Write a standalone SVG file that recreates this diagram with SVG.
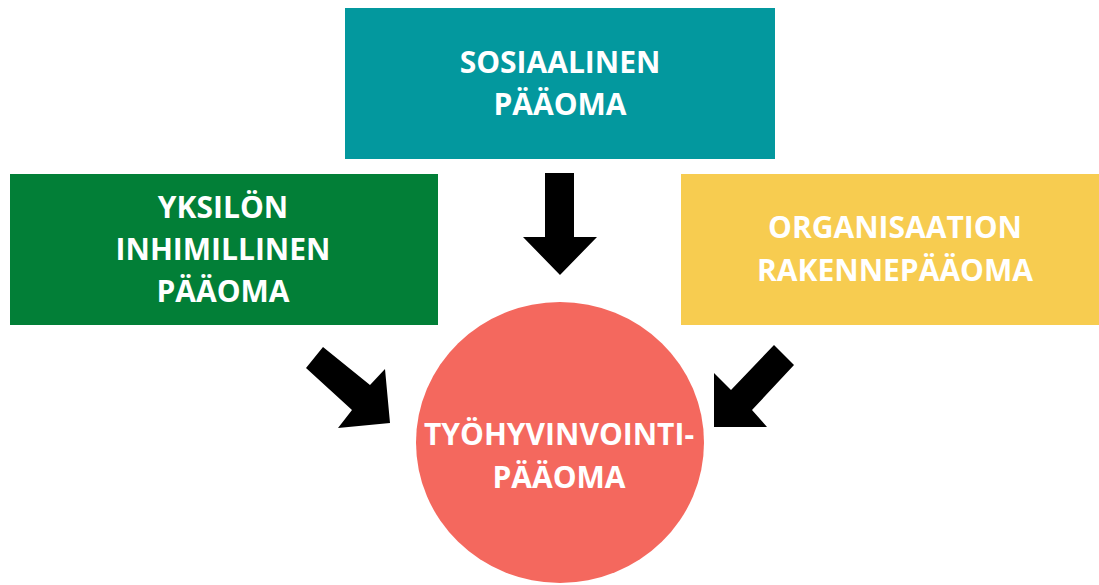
<svg xmlns="http://www.w3.org/2000/svg" width="1099" height="585" viewBox="0 0 1099 585">
<style>
.t{font-family:"Open Sans","Liberation Sans",sans-serif;font-weight:bold;font-size:30px;fill:#ffffff;text-anchor:middle}
.arr{fill:#000000}
</style>
<rect width="1099" height="585" fill="#ffffff"/>
<g id="sosiaalinen">
<rect x="345" y="8" width="430" height="151" fill="#03989e"/>
<text class="t" x="560" y="73">SOSIAALINEN</text>
<text class="t" x="560" y="115">PÄÄOMA</text>
</g>
<g id="yksilon">
<rect x="10" y="174" width="428" height="151" fill="#027f37"/>
<text class="t" x="223" y="218">YKSILÖN</text>
<text class="t" x="223" y="260">INHIMILLINEN</text>
<text class="t" x="223" y="302">PÄÄOMA</text>
</g>
<g id="organisaation">
<rect x="681" y="174" width="418" height="151" fill="#f7cc50"/>
<text class="t" x="895" y="238">ORGANISAATION</text>
<text class="t" x="895" y="281">RAKENNEPÄÄOMA</text>
</g>
<g id="tyohyvinvointi">
<ellipse cx="560" cy="442.5" rx="144" ry="140.5" fill="#f4685e"/>
<text class="t" x="559" y="445">TYÖHYVINVOINTI-</text>
<text class="t" x="559" y="488">PÄÄOMA</text>
</g>
<g id="connectors">
<polygon class="arr" points="545,173 574,173 574,237 597,237 560,275 523,237 545,237"/>
<polygon class="arr" points="323,347 370,385 385,369 390,423 338,428 352,410 306,368"/>
<polygon class="arr" points="774,345 794,365 752,410 767,427 714,427 714,373 731,390"/>
</g>
</svg>
